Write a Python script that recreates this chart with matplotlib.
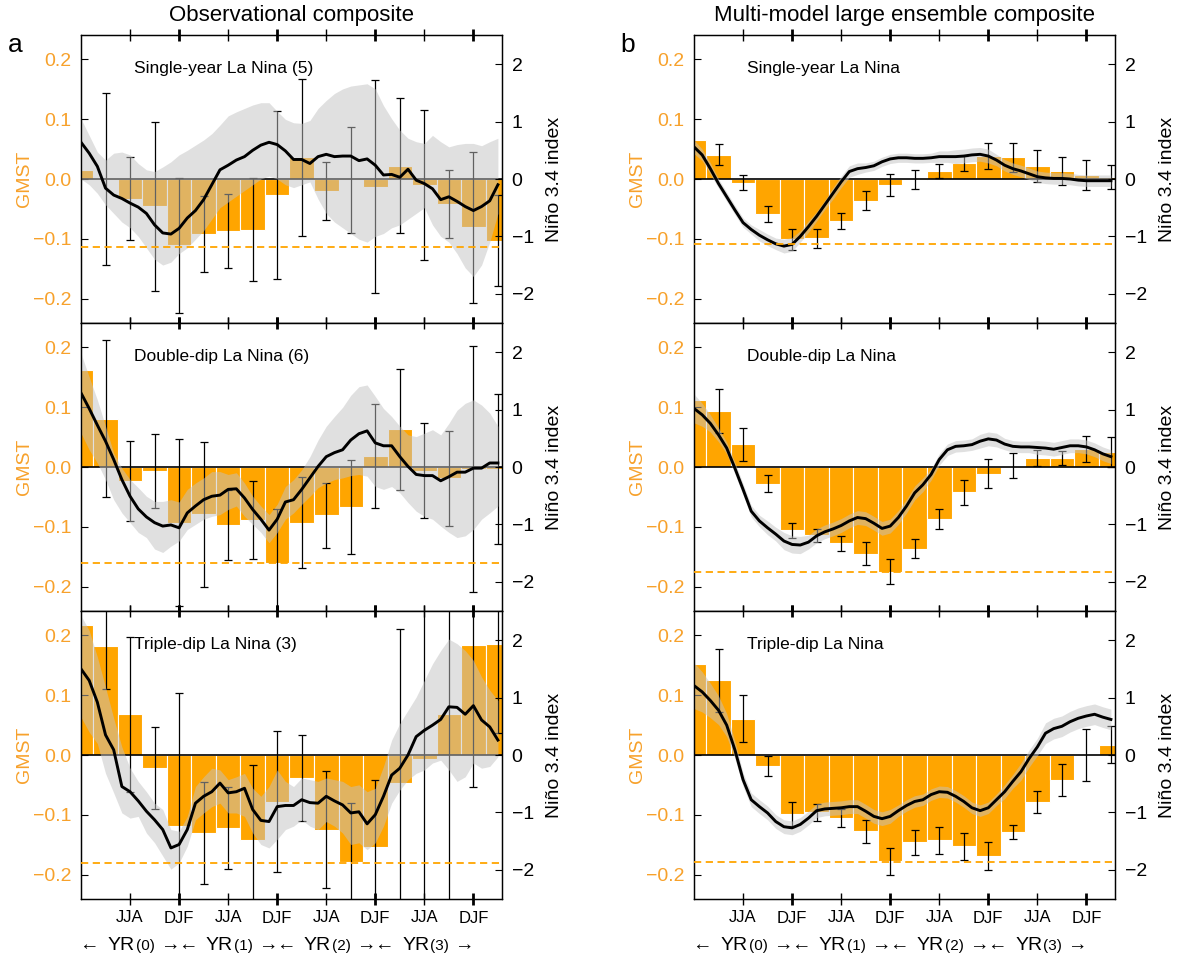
import numpy as np
import matplotlib.pyplot as plt
from matplotlib.lines import Line2D
from matplotlib.transforms import blended_transform_factory

plt.rcParams['font.family'] = ['Liberation Sans', 'DejaVu Sans']

nan = np.nan

# ---- axis labels / ticks ----
col_titles = ['Observational composite', 'Multi-model large ensemble composite']
col_letters = ['a', 'b']
gmst_ticks = [-0.2, -0.1, 0.0, 0.1, 0.2]
gmst_ticklabels = ['\u22120.2', '\u22120.1', '0.0', '0.1', '0.2']
nino_ticks = [-2, -1, 0, 1, 2]
nino_ticklabels = ['\u22122', '\u22121', '0', '1', '2']
djf_months = [12, 24, 36, 48]
jja_months = [6, 18, 30, 42]
djf_labels = ['DJF'] * 4
jja_labels = ['JJA'] * 4
yr_labels = ['(0)', '(1)', '(2)', '(3)']

# seasonal bars start at DJF of YR(0); monthly Nino 3.4 starts at Jan YR(0)
season_x = np.arange(0, 52, 3)
month_x = np.arange(52)

# ---- observational composite ----
obs_single_title = 'Single-year La Nina (5)'
obs_single_bar = [0.015, 0.0, -0.033, -0.046, -0.111, -0.092, -0.087, -0.085, -0.027,
                  0.036, -0.020, -0.002, -0.013, 0.022, -0.010, -0.042, -0.081, -0.103]
obs_single_err = [nan, 0.144, 0.069, 0.141, 0.113, 0.064, 0.062, 0.086, 0.141,
                  0.131, 0.049, 0.089, 0.178, 0.113, 0.126, 0.057, 0.126, 0.076]
obs_single_nino = [0.64, 0.45, 0.22, -0.16, -0.28, -0.34, -0.42, -0.49, -0.60, -0.80,
                   -0.94, -0.96, -0.86, -0.68, -0.55, -0.36, -0.10, 0.16, 0.24, 0.33,
                   0.39, 0.50, 0.59, 0.64, 0.60, 0.49, 0.34, 0.34, 0.27, 0.39,
                   0.43, 0.39, 0.40, 0.40, 0.32, 0.35, 0.24, 0.07, 0.08, 0.03,
                   0.17, -0.02, -0.08, -0.17, -0.36, -0.31, -0.39, -0.48, -0.55, -0.48,
                   -0.38, -0.10]
obs_single_hi = [1.05, 0.76, 0.47, 0.33, 0.45, 0.47, 0.42, 0.27, 0.16, 0.13,
                 0.21, 0.30, 0.42, 0.50, 0.59, 0.68, 0.79, 0.94, 1.10, 1.17,
                 1.23, 1.29, 1.33, 1.33, 1.18, 1.04, 0.98, 0.97, 1.02, 1.23,
                 1.37, 1.49, 1.57, 1.62, 1.64, 1.66, 1.57, 1.28, 1.05, 0.85,
                 0.71, 0.65, 0.62, 0.76, 0.65, 0.56, 0.60, 0.62, 0.62, 0.58,
                 0.65, 0.71]
obs_single_lo = [0.0, -0.10, -0.25, -0.45, -0.60, -0.75, -0.85, -1.00, -1.20, -1.40,
                 -1.50, -1.45, -1.30, -1.20, -1.05, -0.90, -0.70, -0.50, -0.40, -0.30,
                 -0.20, -0.10, 0.0, 0.05, 0.0, -0.10, -0.15, -0.10, -0.05, -0.35,
                 -0.60, -0.75, -0.85, -0.95, -1.05, -1.10, -1.00, -0.95, -0.85, -0.80,
                 -0.70, -0.60, -0.50, -0.80, -1.00, -1.10, -1.30, -1.55, -1.70, -1.50,
                 -1.10, -0.60]
obs_single_thresh = -0.113

obs_double_title = 'Double-dip La Nina (6)'
obs_double_bar = [0.162, 0.081, -0.024, -0.006, -0.093, -0.079, -0.097, -0.089, -0.160,
                  -0.093, -0.081, -0.067, 0.019, 0.063, -0.006, -0.019, -0.004, -0.003]
obs_double_err = [nan, 0.131, 0.067, 0.062, 0.140, 0.121, 0.059, 0.065, 0.089,
                  0.076, 0.054, 0.078, 0.087, 0.101, 0.080, 0.080, 0.206, 0.126]
obs_double_nino = [1.29, 1.02, 0.73, 0.45, 0.13, -0.22, -0.51, -0.73, -0.87, -0.97,
                   -1.03, -1.01, -1.06, -0.80, -0.68, -0.57, -0.51, -0.49, -0.39, -0.38,
                   -0.54, -0.74, -0.91, -1.10, -0.91, -0.61, -0.57, -0.39, -0.19, 0.01,
                   0.18, 0.25, 0.30, 0.47, 0.58, 0.63, 0.42, 0.37, 0.37, 0.18,
                   0.01, -0.13, -0.15, -0.15, -0.24, -0.17, -0.09, -0.09, -0.02, -0.02,
                   0.07, 0.07]
obs_double_hi = [1.98, 1.57, 1.17, 0.71, 0.24, -0.02, -0.22, -0.36, -0.51, -0.60,
                 -0.60, -0.57, -0.61, -0.39, -0.28, -0.19, -0.08, -0.08, -0.13, -0.10,
                 -0.28, -0.51, -0.68, -0.83, -0.65, -0.34, -0.22, -0.05, 0.18, 0.47,
                 0.71, 0.88, 1.04, 1.25, 1.40, 1.43, 1.23, 1.02, 0.88, 0.71,
                 0.56, 0.53, 0.59, 0.65, 0.56, 0.76, 0.99, 1.11, 1.17, 1.08,
                 0.94, 0.71]
obs_double_lo = [0.59, 0.30, 0.07, -0.22, -0.57, -0.80, -0.97, -1.14, -1.23, -1.43,
                 -1.49, -1.38, -1.29, -1.09, -1.00, -0.91, -0.86, -0.83, -0.74, -0.68,
                 -0.86, -1.00, -1.14, -1.32, -1.14, -0.91, -0.80, -0.65, -0.51, -0.36,
                 -0.28, -0.22, -0.19, -0.15, -0.13, -0.16, -0.34, -0.39, -0.34, -0.45,
                 -0.62, -0.77, -0.86, -0.91, -1.03, -1.14, -1.23, -1.20, -1.09, -0.91,
                 -0.80, -0.68]
obs_double_thresh = -0.161

obs_triple_title = 'Triple-dip La Nina (3)'
obs_triple_bar = [0.217, 0.183, 0.068, -0.022, -0.118, -0.131, -0.122, -0.142, -0.078,
                  -0.038, -0.125, -0.179, -0.154, -0.047, -0.007, 0.069, 0.184, 0.186]
obs_triple_err = [nan, 0.072, 0.130, 0.069, 0.222, 0.085, 0.069, 0.126, 0.118,
                  0.072, 0.098, 0.098, 0.112, 0.258, 0.280, 0.330, 0.237, 0.150]
obs_triple_nino = [1.50, 1.30, 0.92, 0.35, 0.09, -0.55, -0.64, -0.80, -0.98, -1.13,
                   -1.30, -1.62, -1.56, -1.30, -0.84, -0.72, -0.64, -0.49, -0.66, -0.64,
                   -0.58, -0.95, -1.14, -1.16, -0.90, -0.88, -0.88, -0.78, -0.83, -0.84,
                   -0.72, -0.80, -0.87, -1.01, -0.99, -1.20, -1.04, -0.72, -0.35, -0.23,
                   0.00, 0.32, 0.43, 0.52, 0.62, 0.84, 0.83, 0.71, 0.86, 0.61,
                   0.49, 0.26]
obs_triple_hi = [2.43, 2.17, 1.71, 1.18, 0.64, 0.14, -0.23, -0.46, -0.64, -0.84,
                 -0.95, -1.30, -1.33, -1.07, -0.55, -0.38, -0.23, -0.26, -0.43, -0.38,
                 -0.32, -0.58, -0.72, -0.55, -0.26, -0.46, -0.55, -0.40, -0.43, -0.46,
                 -0.40, -0.43, -0.46, -0.55, -0.52, -0.64, -0.58, -0.20, 0.26, 0.55,
                 0.78, 1.01, 1.30, 1.59, 1.82, 2.02, 1.94, 1.82, 1.65, 1.36,
                 1.13, 0.95]
obs_triple_lo = [0.66, 0.40, 0.20, -0.32, -0.66, -1.01, -1.10, -1.07, -1.36, -1.53,
                 -1.76, -1.99, -1.88, -1.59, -1.13, -1.01, -0.90, -0.84, -1.01, -1.01,
                 -1.07, -1.36, -1.56, -1.62, -1.47, -1.30, -1.24, -1.13, -1.24, -1.30,
                 -1.16, -1.24, -1.36, -1.56, -1.53, -1.65, -1.53, -1.24, -0.84, -0.61,
                 -0.43, -0.32, -0.26, -0.14, -0.09, -0.26, -0.46, -0.38, -0.14, -0.23,
                 -0.20, -0.03]
obs_triple_thresh = -0.181

# ---- multi-model large ensemble composite ----
mod_single_title = 'Single-year La Nina'
mod_single_bar = [0.066, 0.041, -0.006, -0.059, -0.101, -0.099, -0.070, -0.036, -0.010,
                  -0.001, 0.013, 0.026, 0.039, 0.036, 0.022, 0.013, 0.007, 0.004]
mod_single_err = [nan, 0.017, 0.013, 0.013, 0.018, 0.016, 0.013, 0.016, 0.019,
                  0.016, 0.012, 0.013, 0.022, 0.025, 0.027, 0.023, 0.025, 0.020]
mod_single_nino = [0.56, 0.42, 0.18, -0.08, -0.31, -0.54, -0.76, -0.88, -0.98, -1.06,
                   -1.13, -1.17, -1.14, -1.00, -0.83, -0.65, -0.45, -0.25, -0.05, 0.13,
                   0.18, 0.20, 0.23, 0.30, 0.35, 0.37, 0.37, 0.36, 0.36, 0.37,
                   0.39, 0.39, 0.39, 0.40, 0.42, 0.43, 0.40, 0.33, 0.24, 0.18,
                   0.14, 0.09, 0.04, 0.02, 0.01, 0.01, 0.00, -0.02, -0.03, -0.03,
                   -0.03, -0.03]
mod_single_spread = [0.12, 0.10, 0.10, 0.08, 0.08, 0.08, 0.08, 0.08, 0.10, 0.10,
                     0.10, 0.12, 0.12, 0.10, 0.10, 0.08, 0.08, 0.10, 0.10, 0.10,
                     0.10, 0.08, 0.08, 0.08, 0.08, 0.08, 0.08, 0.08, 0.08, 0.08,
                     0.10, 0.10, 0.12, 0.12, 0.12, 0.12, 0.12, 0.10, 0.10, 0.10,
                     0.10, 0.10, 0.10, 0.10, 0.10, 0.10, 0.10, 0.10, 0.10, 0.10,
                     0.10, 0.10]
mod_single_thresh = -0.109

mod_double_title = 'Double-dip La Nina'
mod_double_bar = [0.112, 0.094, 0.038, -0.028, -0.106, -0.114, -0.128, -0.145, -0.175,
                  -0.137, -0.087, -0.042, -0.011, 0.002, 0.015, 0.015, 0.030, 0.025]
mod_double_err = [nan, 0.037, 0.028, 0.014, 0.012, 0.011, 0.012, 0.019, 0.021,
                  0.016, 0.017, 0.021, 0.024, 0.021, 0.013, 0.012, 0.022, 0.025]
mod_double_nino = [1.02, 0.91, 0.76, 0.56, 0.33, -0.02, -0.39, -0.77, -0.94, -1.06,
                   -1.17, -1.29, -1.35, -1.36, -1.31, -1.20, -1.13, -1.08, -1.02, -0.94,
                   -0.88, -0.90, -0.98, -1.07, -1.03, -0.88, -0.68, -0.45, -0.31, -0.13,
                   0.13, 0.30, 0.36, 0.37, 0.39, 0.45, 0.49, 0.47, 0.40, 0.36,
                   0.35, 0.35, 0.34, 0.33, 0.31, 0.34, 0.37, 0.37, 0.35, 0.30,
                   0.23, 0.18]
mod_double_spread = [0.25, 0.20, 0.15, 0.12, 0.10, 0.10, 0.10, 0.10, 0.10, 0.12,
                     0.12, 0.15, 0.15, 0.15, 0.12, 0.12, 0.12, 0.12, 0.12, 0.12,
                     0.12, 0.12, 0.12, 0.12, 0.12, 0.12, 0.12, 0.12, 0.12, 0.10,
                     0.10, 0.10, 0.10, 0.10, 0.10, 0.12, 0.12, 0.12, 0.10, 0.10,
                     0.10, 0.10, 0.12, 0.12, 0.12, 0.12, 0.12, 0.12, 0.12, 0.12,
                     0.12, 0.12]
mod_double_thresh = -0.176

mod_triple_title = 'Triple-dip La Nina'
mod_triple_bar = [0.153, 0.125, 0.061, -0.018, -0.099, -0.096, -0.106, -0.128, -0.178,
                  -0.146, -0.143, -0.153, -0.169, -0.129, -0.079, -0.042, 0.0, 0.017]
mod_triple_err = [nan, 0.053, 0.040, 0.017, 0.020, 0.014, 0.015, 0.020, 0.023,
                  0.021, 0.022, 0.023, 0.023, 0.012, 0.018, 0.027, 0.043, 0.031]
mod_triple_nino = [1.21, 1.10, 0.95, 0.78, 0.52, 0.09, -0.43, -0.78, -0.90, -1.01,
                   -1.16, -1.25, -1.27, -1.21, -1.10, -0.97, -0.94, -0.93, -0.92, -0.90,
                   -0.90, -0.98, -1.07, -1.11, -1.07, -0.97, -0.88, -0.81, -0.78, -0.69,
                   -0.64, -0.65, -0.72, -0.81, -0.92, -0.97, -0.92, -0.78, -0.64, -0.46,
                   -0.29, -0.06, 0.14, 0.38, 0.46, 0.50, 0.58, 0.64, 0.68, 0.71,
                   0.66, 0.62]
mod_triple_spread = [0.40, 0.35, 0.30, 0.25, 0.20, 0.15, 0.12, 0.12, 0.12, 0.12,
                     0.12, 0.12, 0.12, 0.12, 0.12, 0.12, 0.12, 0.12, 0.12, 0.12,
                     0.12, 0.12, 0.12, 0.12, 0.12, 0.10, 0.10, 0.10, 0.10, 0.10,
                     0.10, 0.10, 0.10, 0.10, 0.10, 0.10, 0.10, 0.10, 0.12, 0.12,
                     0.15, 0.15, 0.15, 0.18, 0.18, 0.18, 0.18, 0.18, 0.18, 0.18,
                     0.18, 0.18]
mod_triple_thresh = -0.179

ORANGE = '#FFA500'
TICK_ORANGE = '#F7A12B'
BAND = '#C2C2C2'


def draw_panel(ax, bars, errs, nino, lo, hi, thresh, title, bottom_row):
    ax.bar(season_x, bars, width=3, color=ORANGE, edgecolor='white',
           linewidth=0.8, zorder=1)
    ax.axhline(0, color='black', lw=1.2, zorder=2)
    ax.errorbar(season_x, bars, yerr=errs, fmt='none', ecolor='black',
                elinewidth=0.9, capsize=3, capthick=0.9, zorder=3)

    ax2 = ax.twinx()
    ax2.fill_between(month_x, lo, hi, color=BAND, alpha=0.5, linewidth=0, zorder=1)
    ax2.plot(month_x, nino, color='black', lw=2.1, zorder=3)
    ax2.add_line(Line2D([0, 1], [thresh, thresh], transform=ax.get_yaxis_transform(),
                        color=ORANGE, lw=1.3, ls=(0, (4, 2.5)), zorder=4))

    ax.set_xlim(0, 51.5)
    ax.set_ylim(-0.241, 0.241)
    ax2.set_ylim(-2.51, 2.51)

    ax.text(6.5, 0.185, title, fontsize=12.5, va='center', ha='left')

    ax.set_yticks(gmst_ticks)
    ax.set_yticklabels(gmst_ticklabels)
    ax.tick_params(axis='y', direction='in', length=5, width=0.8, labelsize=14,
                   labelcolor=TICK_ORANGE, pad=7)
    ax2.set_yticks(nino_ticks)
    ax2.set_yticklabels(nino_ticklabels)
    ax2.tick_params(axis='y', direction='in', length=5, width=0.8, labelsize=14, pad=7)

    ax.set_xticks(djf_months)
    ax.set_xticks(jja_months, minor=True)
    ax.tick_params(axis='x', which='major', direction='inout', length=9, width=2,
                   top=True, bottom=True)
    ax.tick_params(axis='x', which='minor', direction='inout', length=8, width=1,
                   top=True, bottom=True)
    if bottom_row:
        ax.set_xticklabels(djf_labels)
        ax.set_xticklabels(jja_labels, minor=True)
        ax.tick_params(axis='x', which='both', labelsize=12, pad=4)
    else:
        ax.tick_params(axis='x', which='both', labelbottom=False)

    ax.set_ylabel('GMST', color=TICK_ORANGE, fontsize=14)
    ax.yaxis.set_label_coords(-0.115, 0.5)
    ax2.set_ylabel('Ni\u00f1o 3.4 index', fontsize=14)
    ax2.yaxis.set_label_coords(1.105, 0.5)

    for a in (ax, ax2):
        for s in a.spines.values():
            s.set_linewidth(0.9)
    return ax2


fig = plt.figure(figsize=(11.79, 9.6), dpi=100)
col_left = [81 / 1179, 694 / 1179]
col_width = 421 / 1179
row_bottom = [1 - 323 / 960, 1 - 611 / 960, 1 - 899 / 960]
row_height = 288 / 960

obs_panels = [
    (obs_single_bar, obs_single_err, obs_single_nino, obs_single_lo, obs_single_hi,
     obs_single_thresh, obs_single_title),
    (obs_double_bar, obs_double_err, obs_double_nino, obs_double_lo, obs_double_hi,
     obs_double_thresh, obs_double_title),
    (obs_triple_bar, obs_triple_err, obs_triple_nino, obs_triple_lo, obs_triple_hi,
     obs_triple_thresh, obs_triple_title),
]
mod_panels = []
for bar, err, nino, spread, thr, title in [
        (mod_single_bar, mod_single_err, mod_single_nino, mod_single_spread,
         mod_single_thresh, mod_single_title),
        (mod_double_bar, mod_double_err, mod_double_nino, mod_double_spread,
         mod_double_thresh, mod_double_title),
        (mod_triple_bar, mod_triple_err, mod_triple_nino, mod_triple_spread,
         mod_triple_thresh, mod_triple_title)]:
    lo = np.array(nino) - np.array(spread)
    hi = np.array(nino) + np.array(spread)
    mod_panels.append((bar, err, nino, lo, hi, thr, title))

for c, panels in enumerate([obs_panels, mod_panels]):
    for r, p in enumerate(panels):
        ax = fig.add_axes([col_left[c], row_bottom[r], col_width, row_height])
        draw_panel(ax, *p, bottom_row=(r == 2))
        if r == 2:
            tr = blended_transform_factory(ax.transData, ax.transAxes)
            yy = -0.178
            for n, lab in enumerate(yr_labels):
                x0 = 12 * n
                ax.text(x0 + 1.0, yy, '\u2190', transform=tr, fontsize=14,
                        ha='center', va='baseline')
                ax.text(x0 + 6.6, yy, 'YR', transform=tr, fontsize=14,
                        ha='right', va='baseline')
                ax.text(x0 + 6.7, yy, lab, transform=tr, fontsize=11,
                        ha='left', va='baseline')
                ax.text(x0 + 10.8, yy, '\u2192', transform=tr, fontsize=14,
                        ha='center', va='baseline')
    cx = col_left[c] + col_width / 2
    fig.text(cx, 1 - 15 / 960, col_titles[c], fontsize=16, ha='center', va='center')
    fig.text(col_left[c] - 66 / 1179, 1 - 45 / 960, col_letters[c], fontsize=19,
             ha='center', va='center')

fig.savefig('out.png', dpi=100)
